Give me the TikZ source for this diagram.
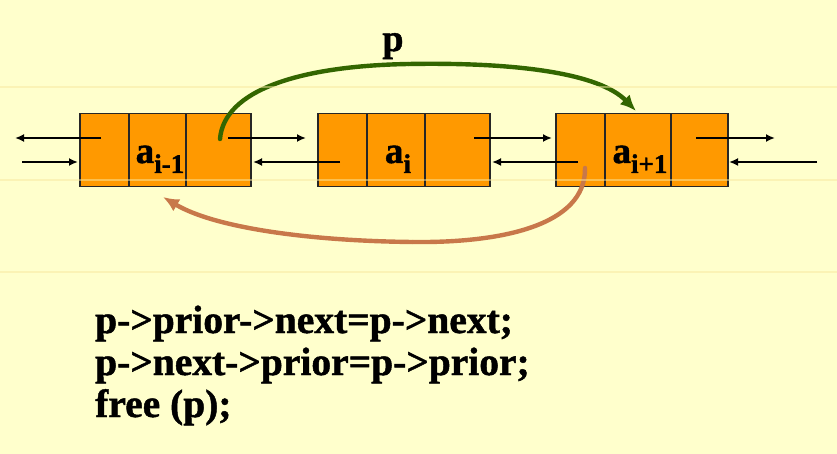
\documentclass[tikz,border=0pt]{standalone}
\usepackage{fontspec}
\setmainfont{Liberation Serif}[BoldFeatures={FakeBold=1.2}]
\usetikzlibrary{arrows.meta}
\definecolor{bg}{HTML}{FFFFCC}
\definecolor{cellfill}{HTML}{FF9900}
\definecolor{greenarc}{HTML}{336600}
\definecolor{brownarc}{HTML}{C8784A}
\definecolor{rule}{HTML}{F8E8A0}
\tikzset{
  cell/.style={draw=black!85, line width=1.5pt, fill=cellfill, minimum height=73pt, inner sep=0pt, anchor=north west},
  ptr/.style={line width=2.8pt, -{Latex[length=9pt,width=8pt]}},
  bigarc/.style={line width=4.4pt, -{Latex[length=16pt,width=14pt]}},
  lbl/.style={inner sep=0pt, anchor=base, font=\bfseries\fontsize{37}{37}\selectfont},
  code/.style={inner sep=0pt, anchor=base west, font=\bfseries\fontsize{39.5}{42}\selectfont}
}
\newcommand{\sublbl}[1]{\raisebox{-10pt}{\fontsize{27}{27}\selectfont #1}}
\begin{document}
\begin{tikzpicture}[x=1pt,y=-1pt]
\useasboundingbox (0,0) rectangle (837,454);
\fill[bg] (0,0) rectangle (837,454);

% node 1
\node[cell, minimum width=49pt] (n1a) at (79,113) {};
\node[cell, minimum width=57pt] (n1b) at (128,113) {};
\node[cell, minimum width=65pt] (n1c) at (185,113) {};
% node 2
\node[cell, minimum width=49pt] (n2a) at (317,113) {};
\node[cell, minimum width=58pt] (n2b) at (366,113) {};
\node[cell, minimum width=65pt] (n2c) at (424,113) {};
% node 3
\node[cell, minimum width=49pt] (n3a) at (555,113) {};
\node[cell, minimum width=66pt] (n3b) at (604,113) {};
\node[cell, minimum width=57pt] (n3c) at (670,113) {};

\node[lbl] (l1) at (160,163) {a\sublbl{i-1}};
\node[lbl] (l2) at (398,163) {a\sublbl{i}};
\node[lbl] (l3) at (640,163) {a\sublbl{i+1}};

% pointer ends
\coordinate (p1s) at (101,138); \coordinate (p1e) at (15,138);
\coordinate (q1s) at (22,162);  \coordinate (q1e) at (78,162);
\coordinate (p2s) at (228,138); \coordinate (p2e) at (306,138);
\coordinate (q2s) at (340,162); \coordinate (q2e) at (253,162);
\coordinate (p3s) at (474,138); \coordinate (p3e) at (552,138);
\coordinate (q3s) at (578,162); \coordinate (q3e) at (492,162);
\coordinate (p4s) at (696,138); \coordinate (p4e) at (775,138);
\coordinate (q4s) at (817,162); \coordinate (q4e) at (729,162);

\foreach \s/\e in {p1s/p1e,q1s/q1e,p2s/p2e,q2s/q2e,p3s/p3e,q3s/q3e,p4s/p4e,q4s/q4e}
  \draw[ptr] (\s) -- (\e);

% green arc
\coordinate (gs) at (220,139);
\coordinate (gm) at (408,64);
\coordinate (ge) at (636,111);
\draw[greenarc, line width=4.4pt, line cap=round] (gs) .. controls (224,90) and (300,66) .. (gm);
\draw[greenarc, bigarc] (gm) .. controls (520,62) and (600,74) .. (ge);
\node[inner sep=0pt, anchor=base, font=\bfseries\fontsize{38}{38}\selectfont] (plbl) at (393,51) {p};

% brown arc
\coordinate (bs) at (585,168);
\coordinate (bm) at (413,242);
\coordinate (be) at (163,197);
\draw[brownarc, line width=4.4pt, line cap=round] (bs) .. controls (586,226) and (500,243) .. (bm);
\draw[brownarc, bigarc] (bm) .. controls (310,241) and (215,228) .. (be);

% faint rules
\foreach \yy in {87,180,272}
  \draw[rule, line width=1.2pt, opacity=0.5] (0,\yy) -- (837,\yy);

\node[code] (c1) at (95,333) {p->prior->next=p->next;};
\node[code] (c2) at (95,375) {p->next->prior=p->prior;};
\node[code] (c3) at (95,417) {free (p);};
\end{tikzpicture}
\end{document}
